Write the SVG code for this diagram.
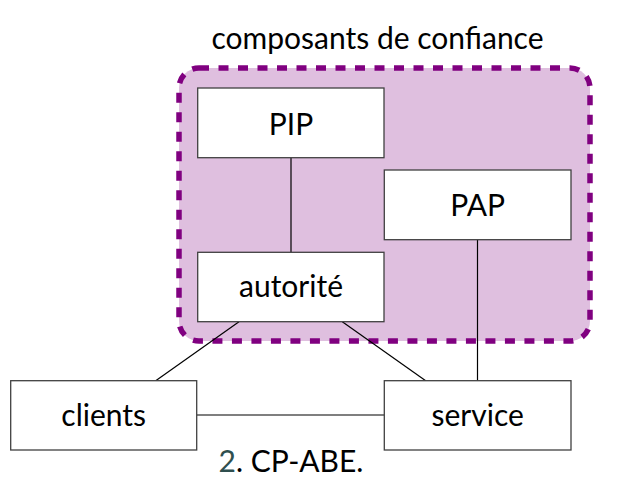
<svg xmlns="http://www.w3.org/2000/svg" width="634" height="494" viewBox="0 0 634 494">
  <style>
    .box { fill: #ffffff; stroke: #404040; stroke-width: 1.3; }
    .lbl { font-family: Lato, "Liberation Sans", sans-serif; font-size: 30px; fill: #000000; text-anchor: middle; }
    .conn { stroke: #000000; stroke-width: 1.2; fill: none; }
    .trust { fill: #dfbfdf; stroke: #800080; stroke-width: 5.5; stroke-dasharray: 10 9.5; }
  </style>
  <rect width="634" height="494" fill="#ffffff"/>
  <g id="trust-zone">
    <rect class="trust" x="179" y="68" width="411" height="273" rx="20" ry="20"/>
    <text class="lbl" x="377.5" y="49">composants de confiance</text>
  </g>
  <g id="connectors">
    <line class="conn" x1="291" y1="157.7" x2="291" y2="252.3"/>
    <line class="conn" x1="477.5" y1="239.7" x2="477.5" y2="380.7"/>
    <line class="conn" x1="239" y1="321.7" x2="155.7" y2="380.7"/>
    <line class="conn" x1="342.3" y1="321.7" x2="425.7" y2="380.7"/>
    <line class="conn" x1="196.7" y1="415" x2="384.3" y2="415"/>
  </g>
  <g id="PIP">
    <rect class="box" x="197.7" y="88" width="186.3" height="69.7"/>
    <text class="lbl" x="291" y="135">PIP</text>
  </g>
  <g id="PAP">
    <rect class="box" x="384.3" y="170" width="186.7" height="69.7"/>
    <text class="lbl" x="477.7" y="215.7">PAP</text>
  </g>
  <g id="autorite">
    <rect class="box" x="197.7" y="252.3" width="186.3" height="69.4"/>
    <text class="lbl" x="291" y="297.3">autorité</text>
  </g>
  <g id="clients">
    <rect class="box" x="10.7" y="380.7" width="186" height="69.3"/>
    <text class="lbl" x="103.7" y="425.7">clients</text>
  </g>
  <g id="service">
    <rect class="box" x="384.3" y="380.7" width="186.7" height="69.3"/>
    <text class="lbl" x="477.7" y="425.7">service</text>
  </g>
  <g id="caption">
    <text class="lbl" x="291" y="472.3"><tspan fill="#2f4f4f">2</tspan>. CP-ABE.</text>
  </g>
</svg>
